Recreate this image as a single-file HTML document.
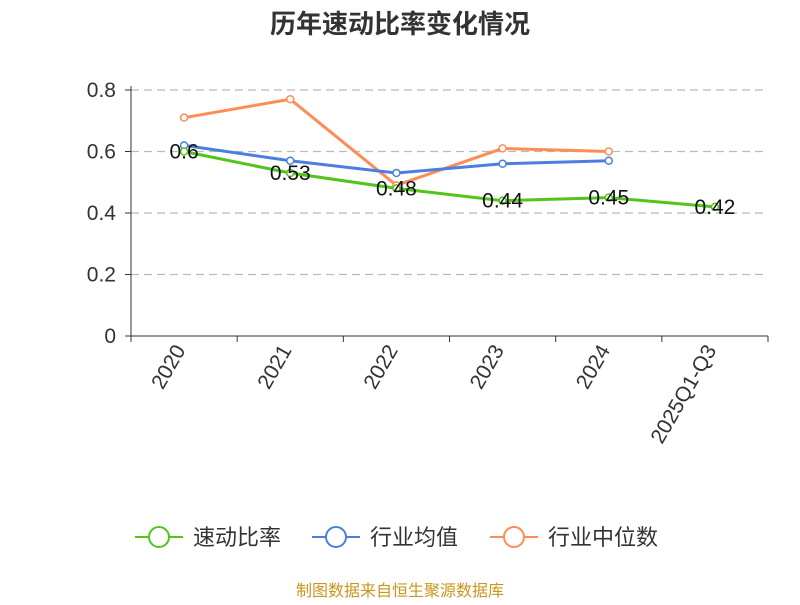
<!DOCTYPE html>
<html><head><meta charset="utf-8"><style>
body{margin:0;background:#fff;}
svg text{font-family:"Liberation Sans","Noto Sans CJK SC",sans-serif;}
</style></head><body>
<svg id="chart" width="800" height="600" xmlns="http://www.w3.org/2000/svg">
<text x="400" y="33" text-anchor="middle" font-size="26" font-weight="bold" fill="#333">历年速动比率变化情况</text>
<g id="grid"></g><g id="axes"></g><g id="series"></g><g id="legend"></g>
<text x="400" y="596" text-anchor="middle" font-size="16" fill="#c8961e">制图数据来自恒生聚源数据库</text>
</svg>
<script>
const categories=["2020","2021","2022","2023","2024","2025Q1-Q3"];
const quickRatio=[0.6,0.53,0.48,0.44,0.45,0.42];
const industryAvg=[0.62,0.57,0.53,0.56,0.57,null];
const industryMedian=[0.71,0.77,0.49,0.61,0.60,null];
const yTicks=[0,0.2,0.4,0.6,0.8];
const yTickLabels=["0","0.2","0.4","0.6","0.8"];
const seriesNames=["速动比率","行业均值","行业中位数"];
const NS="http://www.w3.org/2000/svg";
const x0=131,x1=768,y0=336,y1=90,yMax=0.8;
const band=(x1-x0)/categories.length;
const xs=i=>x0+band*(i+0.5);
const ys=v=>y0-(v/yMax)*(y0-y1);
function mk(tag,attrs,parent,text){const e=document.createElementNS(NS,tag);for(const k in attrs)e.setAttribute(k,attrs[k]);if(text!=null)e.textContent=text;parent.appendChild(e);return e;}
const grid=document.getElementById('grid'),axes=document.getElementById('axes'),ser=document.getElementById('series'),leg=document.getElementById('legend');
yTicks.forEach((t,i)=>{
 if(t>0){const l=mk('line',{x1:x0,x2:x1,y1:ys(t),y2:ys(t),stroke:'#bbb','stroke-width':1.2,'stroke-dasharray':'8,5'},grid);
 
 }
 const tl=mk('line',{x1:x0-6,x2:x0,y1:ys(t),y2:ys(t),stroke:'#333'},axes);
 
 
 const tx=mk('text',{x:x0-15,y:ys(t)+7,'text-anchor':'end','font-size':21,fill:'#333'},axes,yTickLabels[i]);
 
 
});
const ya=mk('line',{x1:x0,x2:x0,y1:y1-4,y2:y0,stroke:'#333'},axes);


const xa=mk('line',{x1:x0,x2:x1,y1:y0,y2:y0,stroke:'#333'},axes);


for(let i=0;i<=categories.length;i++){const t=mk('line',{x1:x0+band*i,x2:x0+band*i,y1:y0,y2:y0+6,stroke:'#333'},axes);
 
 }
categories.forEach((c,i)=>{const x=xs(i)+2,y=y0+14;
 const t=mk('text',{x:x,y:y,'text-anchor':'end','font-size':21,fill:'#333',transform:`rotate(-60 ${x} ${y})`},axes,c);
 
 });
const colors=["#52c41a","#4a7fe0","#ff8c55"];
function drawSeries(data,color,name,labels){
 const g=mk('g',{},ser);
 
 
 const pts=data.map((v,i)=>v==null?null:[xs(i),ys(v)]).filter(p=>p);
 mk('polyline',{points:pts.map(p=>p.join(',')).join(' '),fill:'none',stroke:color,'stroke-width':3},g);
 data.forEach((v,i)=>{if(v==null)return;
  const c=mk('circle',{cx:xs(i),cy:ys(v),r:3.5,fill:'#fff',stroke:color,'stroke-width':1.5},g);
  
  
  if(labels){const t=mk('text',{x:xs(i),y:ys(v)+7,'text-anchor':'middle','font-size':21,fill:'#111'},g,String(v));
   
   }
 });
}
drawSeries(industryMedian,colors[2],'series-industry-median',false);
drawSeries(industryAvg,colors[1],'series-industry-average',false);
drawSeries(quickRatio,colors[0],'series-quick-ratio',true);
const legX=[135,312,490];
seriesNames.forEach((n,i)=>{const g=mk('g',{},leg);
 
 
 mk('line',{x1:legX[i],x2:legX[i]+48,y1:537,y2:537,stroke:colors[i],'stroke-width':2},g);
 mk('circle',{cx:legX[i]+24,cy:537,r:10,fill:'#fff',stroke:colors[i],'stroke-width':2},g);
 mk('text',{x:legX[i]+58,y:545,'font-size':22,fill:'#333'},g,n);
});
</script>
</body></html>
